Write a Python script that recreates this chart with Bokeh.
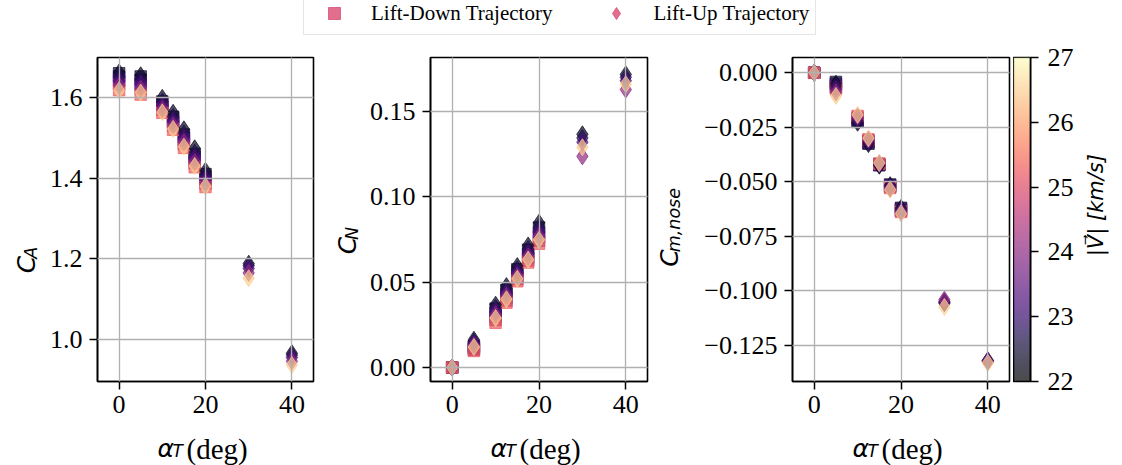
from math import pi
import numpy as np
from bokeh.plotting import figure
from bokeh.layouts import column, row
from bokeh.models import (Range1d, FixedTicker, Legend, LegendItem,
                          LinearColorMapper, ColumnDataSource)
from bokeh.core.properties import value
from bokeh.palettes import Magma256
from bokeh.embed import file_html
from bokeh.resources import INLINE

# ---------------- data ----------------
ALPHA_DOWN = [0, 5, 10, 12.5, 15, 17.5, 20]
ALPHA_UP = [0, 5, 10, 12.5, 15, 17.5, 20, 30, 40]
V_DOWN = [22.5, 22.8, 23.2, 23.8, 25.3]          # km/s
V_UP = [22.3, 22.7, 23.2, 24.0, 26.5]            # km/s

CA_DOWN = [[1.660, 1.652, 1.643, 1.632, 1.618],
           [1.652, 1.644, 1.634, 1.622, 1.607],
           [1.590, 1.584, 1.577, 1.570, 1.562],
           [1.552, 1.546, 1.538, 1.530, 1.520],
           [1.508, 1.501, 1.493, 1.485, 1.475],
           [1.460, 1.453, 1.445, 1.437, 1.427],
           [1.410, 1.403, 1.395, 1.387, 1.378]]
CA_UP = [[1.662, 1.652, 1.641, 1.630, 1.618],
         [1.655, 1.645, 1.634, 1.622, 1.612],
         [1.599, 1.590, 1.580, 1.571, 1.563],
         [1.562, 1.552, 1.541, 1.531, 1.522],
         [1.521, 1.511, 1.500, 1.489, 1.478],
         [1.474, 1.463, 1.451, 1.440, 1.430],
         [1.418, 1.409, 1.398, 1.388, 1.380],
         [1.188, 1.183, 1.176, 1.165, 1.152],
         [0.966, 0.961, 0.955, 0.946, 0.937]]

CN_DOWN = [[0.0000, 0.0000, 0.0000, 0.0000, 0.0000],
           [0.0125, 0.0118, 0.0110, 0.0103, 0.0097],
           [0.0345, 0.0320, 0.0298, 0.0278, 0.0262],
           [0.0455, 0.0430, 0.0408, 0.0392, 0.0380],
           [0.0575, 0.0552, 0.0533, 0.0517, 0.0505],
           [0.0690, 0.0665, 0.0643, 0.0627, 0.0615],
           [0.0820, 0.0790, 0.0765, 0.0742, 0.0725]]
CN_UP = [[0.0000, 0.0000, 0.0000, 0.0000, 0.0000],
         [0.0163, 0.0152, 0.0141, 0.0130, 0.0120],
         [0.0368, 0.0350, 0.0330, 0.0310, 0.0290],
         [0.0477, 0.0458, 0.0438, 0.0420, 0.0400],
         [0.0594, 0.0575, 0.0555, 0.0537, 0.0520],
         [0.0715, 0.0693, 0.0670, 0.0650, 0.0632],
         [0.0848, 0.0823, 0.0795, 0.0770, 0.0748],
         [0.1366, 0.1345, 0.1320, 0.1237, 0.1290],
         [0.1717, 0.1700, 0.1680, 0.1628, 0.1660]]

CM_DOWN = [[0.0000, 0.0000, 0.0000, 0.0000, 0.0000],
           [-0.0042, -0.0050, -0.0058, -0.0066, -0.0074],
           [-0.0225, -0.0218, -0.0212, -0.0205, -0.0198],
           [-0.0325, -0.0320, -0.0315, -0.0310, -0.0305],
           [-0.0424, -0.0422, -0.0420, -0.0418, -0.0416],
           [-0.0512, -0.0516, -0.0520, -0.0524, -0.0528],
           [-0.0619, -0.0624, -0.0629, -0.0634, -0.0638]]
CM_UP = [[0.0000, 0.0000, 0.0000, 0.0000, 0.0000],
         [-0.0050, -0.0062, -0.0075, -0.0090, -0.0106],
         [-0.0229, -0.0220, -0.0210, -0.0200, -0.0193],
         [-0.0327, -0.0320, -0.0313, -0.0306, -0.0300],
         [-0.0426, -0.0422, -0.0418, -0.0415, -0.0414],
         [-0.0515, -0.0520, -0.0526, -0.0531, -0.0536],
         [-0.0620, -0.0627, -0.0633, -0.0639, -0.0645],
         [-0.1052, -0.1056, -0.1048, -0.1040, -0.1073],
         [-0.1318, -0.1320, -0.1322, -0.1325, -0.1330]]

X_TICKS = [0, 20, 40]
CA_TICKS = [1.0, 1.2, 1.4, 1.6]
CA_LABELS = ["1.0", "1.2", "1.4", "1.6"]
CN_TICKS = [0.0, 0.05, 0.10, 0.15]
CN_LABELS = ["0.00", "0.05", "0.10", "0.15"]
CM_TICKS = [0.0, -0.025, -0.05, -0.075, -0.1, -0.125]
CM_LABELS = ["0.000", "\u22120.025", "\u22120.050", "\u22120.075", "\u22120.100", "\u22120.125"]
V_TICKS = [22, 23, 24, 25, 26, 27]
V_LOW, V_HIGH = 22, 27
LEGEND_LABELS = ["Lift-Down Trajectory", "Lift-Up Trajectory"]
YLABEL_SUBS = ["A", "N", "m,nose"]
CBAR_LABEL = "|V\u20d7| [km/s]"


def flatten(alphas, vels, ca, cn, cm):
    d = dict(alpha=[], v=[], ca=[], cn=[], cm=[])
    for j, v in enumerate(vels):
        for i, a in enumerate(alphas):
            d["alpha"].append(a)
            d["v"].append(v)
            d["ca"].append(ca[i][j])
            d["cn"].append(cn[i][j])
            d["cm"].append(cm[i][j])
    return ColumnDataSource(d)


src_down = flatten(ALPHA_DOWN, V_DOWN, CA_DOWN, CN_DOWN, CM_DOWN)
src_up = flatten(ALPHA_UP, V_UP, CA_UP, CN_UP, CM_UP)

mapper = LinearColorMapper(palette=Magma256, low=V_LOW, high=V_HIGH)
cfield = {"field": "v", "transform": mapper}

SERIF = "Liberation Serif"
MATH = "DejaVu Sans"
TICK_SIZE = "26px"

# geometry (canvas px)
LEG_H = 36
MB_TOP, FRAME_H = 21, 324
ROW_H = 395
MB_BOT = ROW_H - MB_TOP - FRAME_H
XL_H = 34
TOTAL_W = 1122
ROT_DX, ROT_DY = -9, -26       # empirical correction for rotated text placement


def blank(width, height, xr=(0, 1), yr=(0, 1)):
    p = figure(width=width, height=height, output_backend="svg", toolbar_location=None, tools="",
               x_range=Range1d(*xr), y_range=Range1d(*yr),
               x_axis_location=None, y_axis_location=None,
               min_border_left=0, min_border_right=0, min_border_top=0, min_border_bottom=0)
    p.outline_line_color = None
    p.grid.visible = False
    return p


def panel(width, left, right, yr):
    p = figure(width=width, height=ROW_H, output_backend="svg", toolbar_location=None, tools="",
               x_range=Range1d(-5, 45), y_range=Range1d(*yr),
               min_border_left=left, min_border_right=right,
               min_border_top=MB_TOP, min_border_bottom=MB_BOT)
    p.outline_line_color = "black"
    p.outline_line_width = 1.6
    p.axis.axis_line_width = 1.6
    p.axis.major_tick_out = 8
    p.axis.major_tick_in = 0
    p.axis.major_tick_line_width = 1.5
    p.axis.minor_tick_line_color = None
    p.axis.major_label_text_font = SERIF
    p.axis.major_label_text_font_size = TICK_SIZE
    p.axis.major_label_text_color = "black"
    p.xaxis.major_label_standoff = 6
    p.yaxis.major_label_standoff = 7
    p.xaxis.ticker = FixedTicker(ticks=X_TICKS)
    p.grid.grid_line_color = "#b0b0b0"
    p.grid.grid_line_width = 1.3
    p.grid.level = "annotation"
    return p


def draw(p, ycol):
    p.scatter("alpha", ycol, source=src_down, marker="square", size=11.5,
              fill_color=cfield, line_color=cfield, fill_alpha=0.7, line_alpha=0.7, line_width=1)
    p.scatter("alpha", ycol, source=src_up, marker="diamond", size=17,
              fill_color=cfield, line_color=cfield, fill_alpha=0.7, line_alpha=0.7, line_width=1)


def txt(p, x, y, s, size, font=MATH, style="italic", angle=0.0, align="left"):
    p.text(x=[x], y=[y], text=[s], angle=angle, text_font=value(font),
           text_font_style=style, text_font_size=value(f"{size}px"), text_color="black",
           text_align=align, text_baseline="alphabetic")


# ---- panels ----  (frames at x 97-313, 430-647, 792-1009; y 57-381)
p1 = panel(276, 53, 7, (0.896, 1.699))
p1.yaxis.ticker = FixedTicker(ticks=CA_TICKS)
p1.yaxis.major_label_overrides = {t: s for t, s in zip(CA_TICKS, CA_LABELS)}
draw(p1, "ca")

p2 = panel(293, 68, 8, (-0.0082, 0.1816))
p2.yaxis.ticker = FixedTicker(ticks=CN_TICKS)
p2.yaxis.major_label_overrides = {t: s for t, s in zip(CN_TICKS, CN_LABELS)}
draw(p2, "cn")

p3 = panel(316, 95, 4, (-0.1415, 0.0070))
p3.yaxis.ticker = FixedTicker(ticks=CM_TICKS)
p3.yaxis.major_label_overrides = {t: s for t, s in zip(CM_TICKS, CM_LABELS)}
draw(p3, "cm")

# colour bar (frame x 1013-1030)
p4 = figure(width=70, height=ROW_H, output_backend="svg", toolbar_location=None, tools="",
            x_range=Range1d(0, 1), y_range=Range1d(V_LOW, V_HIGH),
            x_axis_location=None, y_axis_location="right",
            min_border_left=0, min_border_right=53,
            min_border_top=MB_TOP, min_border_bottom=MB_BOT)
grad = np.linspace(V_LOW, V_HIGH, 256).reshape(-1, 1)
p4.image(image=[grad], x=0, y=V_LOW, dw=1, dh=V_HIGH - V_LOW, color_mapper=mapper, global_alpha=0.7)
p4.grid.visible = False
p4.outline_line_color = "black"
p4.outline_line_width = 1.6
p4.yaxis.ticker = FixedTicker(ticks=V_TICKS)
p4.yaxis.axis_line_width = 1.6
p4.yaxis.major_tick_out = 8
p4.yaxis.major_tick_in = 0
p4.yaxis.major_tick_line_width = 1.5
p4.yaxis.minor_tick_line_color = None
p4.yaxis.major_label_text_font = SERIF
p4.yaxis.major_label_text_font_size = TICK_SIZE
p4.yaxis.major_label_text_color = "black"
p4.yaxis.major_label_standoff = 9


# ---- y-label strips (pixel coordinate figures) ----
def ylab_strip(width, base_x, start_y, sub):
    s = blank(width, ROW_H, (0, width), (0, ROW_H))
    y0 = ROW_H - start_y + ROT_DY
    bx = base_x + ROT_DX
    txt(s, bx, y0, "C", 25, angle=pi / 2)
    txt(s, bx + 4, y0 + 17.5, sub, 17.5, angle=pi / 2)
    return s


yl1 = ylab_strip(44, 35, 237, YLABEL_SUBS[0])
yl2 = ylab_strip(42, 36, 214, YLABEL_SUBS[1])
yl3 = ylab_strip(42, 23, 229, YLABEL_SUBS[2])

cbl = blank(39, ROW_H, (0, 39), (0, ROW_H))
txt(cbl, 21 + ROT_DX, ROW_H - 172 - 8, CBAR_LABEL, 21, angle=pi / 2, align="center")

# ---- x-label strip ----
xl = blank(TOTAL_W, XL_H, (0, TOTAL_W), (0, XL_H))
for left in (97, 430, 792):
    txt(xl, left + 60, 17, "\u03b1", 25)
    txt(xl, left + 75, 15, "T", 17)
    txt(xl, left + 89, 17, "(deg)", 29, font=SERIF, style="normal")

# ---- legend strip ----
pl = blank(TOTAL_W, LEG_H)
LEG_COLOR = "#dc5578"
r_down = pl.scatter(x=[-10], y=[-10], marker="square", size=11.5, fill_color=LEG_COLOR,
                    line_color=LEG_COLOR, fill_alpha=0.85, line_alpha=0.85)
r_up = pl.scatter(x=[-10], y=[-10], marker="diamond", size=17, fill_color=LEG_COLOR,
                  line_color=LEG_COLOR, fill_alpha=0.85, line_alpha=0.85)
leg = Legend(items=[LegendItem(label=LEGEND_LABELS[0], renderers=[r_down]),
                    LegendItem(label=LEGEND_LABELS[1], renderers=[r_up])],
             orientation="horizontal", location=(303, 1),
             label_text_font=SERIF, label_text_font_size="21px", label_text_color="black",
             label_text_baseline="middle",
             glyph_width=48, glyph_height=30, label_standoff=13, spacing=40,
             padding=6, margin=0, border_line_color="#cccccc", border_line_width=1,
             background_fill_color="white", background_fill_alpha=1.0)
pl.add_layout(leg, "center")

layout = column(pl, row(yl1, p1, yl2, p2, yl3, p3, p4, cbl), xl)
open("out.html", "w").write(file_html(layout, INLINE))
